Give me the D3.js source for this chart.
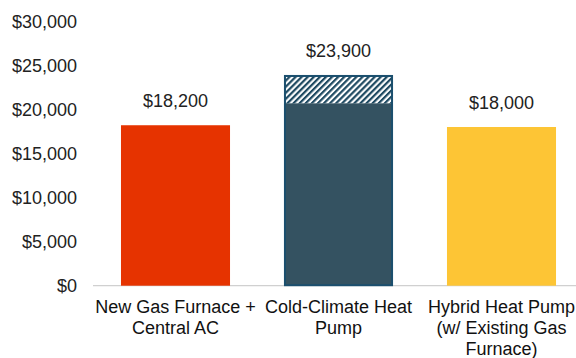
<!DOCTYPE html>
<html>
<head>
<meta charset="utf-8">
<script src="https://cdn.jsdelivr.net/npm/d3@7"></script>
<style>
  html, body { margin: 0; padding: 0; background: #fff; }
  svg { display: block; font-family: "Liberation Sans", Arial, sans-serif; }
</style>
</head>
<body>
<svg id="chart" width="576" height="358"></svg>
<script>
// Upfront cost of each heating/cooling option
const categories = [
  ["New Gas Furnace +", "Central AC"],
  ["Cold-Climate Heat", "Pump"],
  ["Hybrid Heat Pump", "(w/ Existing Gas", "Furnace)"]
];
const baseCost = [18200, 20700, 18000];     // solid portion of each bar
const extraCost = [0, 3200, 0];             // hatched add-on portion
const totalCost = [18200, 23900, 18000];    // labelled totals
const barColors = ["#E63300", "#345261", "#FDC535"];
const yTicks = [0, 5000, 10000, 15000, 20000, 25000, 30000];

const svg = d3.select("#chart");
const keys = categories.map(c => c.join(" "));

const x = d3.scaleBand()
  .domain(keys)
  .range([94, 583])
  .paddingInner(0.331)
  .paddingOuter(0.1655);

const y = d3.scaleLinear()
  .domain([0, 30000])
  .range([285.7, 21.2]);

// diagonal hatch for the add-on portion
const defs = svg.append("defs");
const pat = defs.append("pattern")
  .attr("id", "hatch")
  .attr("patternUnits", "userSpaceOnUse")
  .attr("width", 4.3)
  .attr("height", 4.3)
  .attr("patternTransform", "rotate(45)");
pat.append("rect").attr("width", 4.3).attr("height", 4.3).attr("fill", "#fff");
pat.append("rect").attr("width", 2.2).attr("height", 4.3).attr("fill", "#1F4A62");

// y tick labels
const fmt = d3.format(",");
svg.append("g")
  .selectAll("text")
  .data(yTicks)
  .join("text")
  .attr("x", 77)
  .attr("y", d => y(d))
  .attr("dy", "0.36em")
  .attr("text-anchor", "end")
  .attr("font-size", 18)
  .attr("fill", "#222")
  .text(d => "$" + fmt(d));

// baseline
svg.append("line")
  .attr("x1", 93).attr("x2", 576)
  .attr("y1", y(0)).attr("y2", y(0))
  .attr("stroke", "#d0d0d0")
  .attr("stroke-width", 1.2);

const bars = svg.append("g");

// solid portions
bars.selectAll("rect.base")
  .data(keys)
  .join("rect")
  .attr("class", "base")
  .attr("x", d => x(d))
  .attr("width", x.bandwidth())
  .attr("y", (d, i) => y(baseCost[i]))
  .attr("height", (d, i) => y(0) - y(baseCost[i]))
  .attr("fill", (d, i) => barColors[i]);

// hatched add-on portions
bars.selectAll("rect.extra")
  .data(keys.filter((d, i) => extraCost[i] > 0))
  .join("rect")
  .attr("class", "extra")
  .attr("x", d => x(d))
  .attr("width", x.bandwidth())
  .attr("y", d => { const i = keys.indexOf(d); return y(baseCost[i] + extraCost[i]); })
  .attr("height", d => { const i = keys.indexOf(d); return y(baseCost[i]) - y(baseCost[i] + extraCost[i]); })
  .attr("fill", "url(#hatch)");

// outline around stacked bar
bars.selectAll("rect.outline")
  .data(keys.filter((d, i) => extraCost[i] > 0))
  .join("rect")
  .attr("class", "outline")
  .attr("x", d => x(d) + 1)
  .attr("width", x.bandwidth() - 2)
  .attr("y", d => { const i = keys.indexOf(d); return y(baseCost[i] + extraCost[i]) + 1; })
  .attr("height", d => { const i = keys.indexOf(d); return y(0) - y(baseCost[i] + extraCost[i]) - 1.5; })
  .attr("fill", "none")
  .attr("stroke", "#1B4F6E")
  .attr("stroke-width", 2);

// value labels
svg.append("g")
  .selectAll("text")
  .data(keys)
  .join("text")
  .attr("x", d => x(d) + x.bandwidth() / 2)
  .attr("y", (d, i) => y(totalCost[i]) - 18)
  .attr("text-anchor", "middle")
  .attr("font-size", 18)
  .attr("fill", "#222")
  .text((d, i) => "$" + fmt(totalCost[i]));

// category labels
const cat = svg.append("g")
  .selectAll("text")
  .data(categories)
  .join("text")
  .attr("x", (d, i) => x(keys[i]) + x.bandwidth() / 2)
  .attr("y", 313)
  .attr("text-anchor", "middle")
  .attr("font-size", 18)
  .attr("fill", "#111");
cat.selectAll("tspan")
  .data(d => d)
  .join("tspan")
  .attr("x", function () { return d3.select(this.parentNode).attr("x"); })
  .attr("dy", (d, i) => i === 0 ? 0 : 21)
  .text(d => d);
</script>
</body>
</html>
